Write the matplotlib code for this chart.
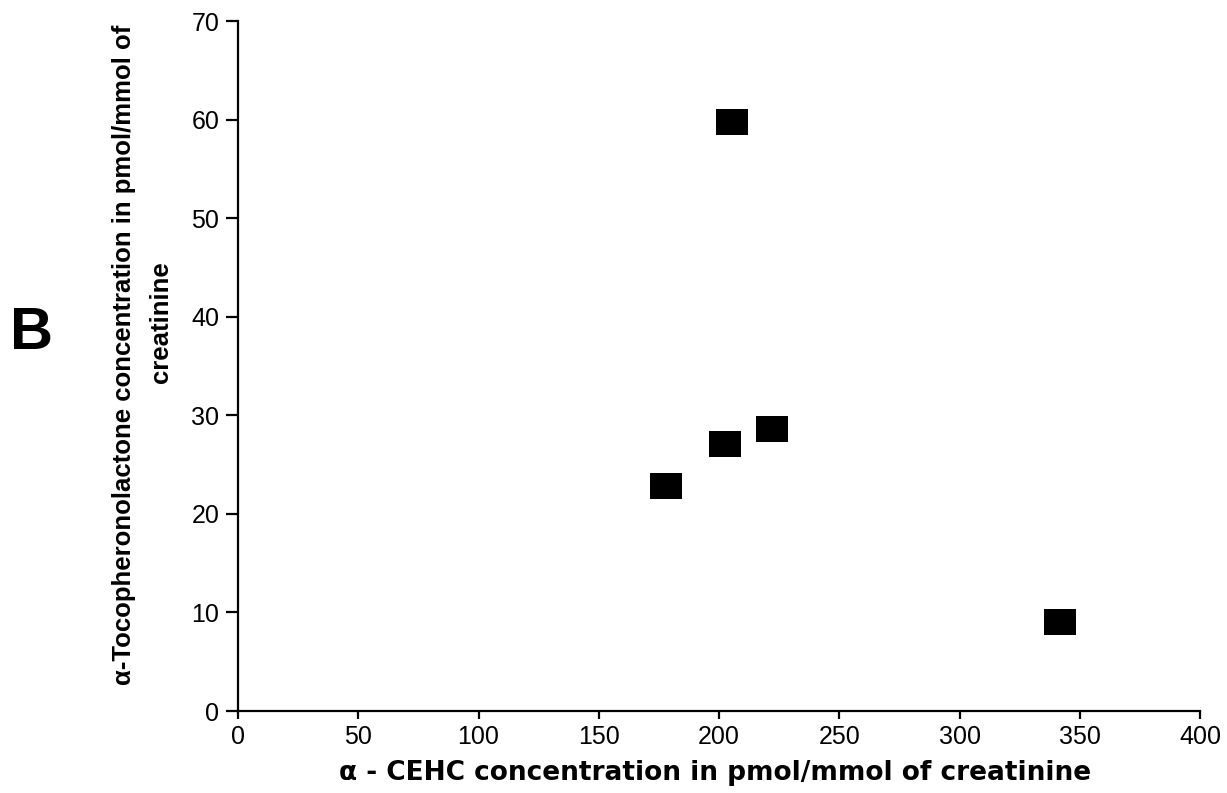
import matplotlib
matplotlib.use("Agg")
import matplotlib.pyplot as plt

# alpha-CEHC vs alpha-tocopheronolactone (pmol/mmol of creatinine)
cehc = [205.6, 178.1, 202.4, 222.2, 341.9]
tocopheronolactone = [59.8, 22.8, 27.1, 28.6, 9.0]

x_ticks = [0, 50, 100, 150, 200, 250, 300, 350, 400]
y_ticks = [0, 10, 20, 30, 40, 50, 60, 70]

plt.rcParams['font.family'] = ['Liberation Sans', 'DejaVu Sans']

fig = plt.figure(figsize=(12.27, 7.93), dpi=100)
ax = fig.add_axes([0.194, 0.1034, 0.784, 0.870])

# slightly wide filled square markers
rect = [(-1, -0.8), (1, -0.8), (1, 0.8), (-1, 0.8), (-1, -0.8)]
ax.plot(cehc, tocopheronolactone, linestyle='none', marker=rect,
        markersize=23.5, color='black', markeredgewidth=0, clip_on=False)

ax.set_xlim(0, 400)
ax.set_ylim(0, 70)
ax.set_xticks(x_ticks)
ax.set_yticks(y_ticks)

for side in ('top', 'right'):
    ax.spines[side].set_visible(False)
for side in ('left', 'bottom'):
    ax.spines[side].set_linewidth(1.6)

ax.tick_params(axis='x', direction='out', length=6, width=1.6, pad=4,
               labelsize=18)
ax.tick_params(axis='y', direction='out', length=8.5, width=1.6, pad=5,
               labelsize=18)

fig.text(0.583, 0.025, "\u03b1 - CEHC concentration in pmol/mmol of creatinine",
         ha='center', va='center', fontsize=19, fontweight='bold',
         family=['DejaVu Sans'])

fig.text(0.101, 0.5523, "\u03b1-Tocopheronolactone concentration in pmol/mmol of",
         rotation=90, ha='center', va='center', fontsize=18.5, fontweight='bold')
fig.text(0.1312, 0.594, "creatinine",
         rotation=90, ha='center', va='center', fontsize=18.5, fontweight='bold')

fig.text(0.026, 0.580, "B", ha='center', va='center', fontsize=43,
         fontweight='bold')

fig.savefig("out.png", dpi=100, facecolor='white')
